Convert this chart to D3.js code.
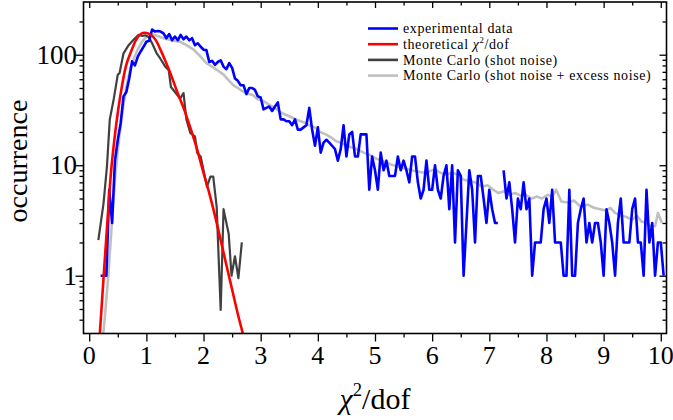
<!DOCTYPE html>
<html><head><meta charset="utf-8">
<script src="https://cdn.jsdelivr.net/npm/d3@7"></script>
<style>
html,body{margin:0;padding:0;background:#fff;}
svg{display:block;}
svg text{font-family:'Liberation Serif','DejaVu Serif',serif;fill:#000;}
</style></head><body>
<svg id="chart" width="673" height="420" font-family="Liberation Serif, DejaVu Serif, serif"></svg>
<script>
// ---------------- data ----------------
const xMajorTicks = [0,1,2,3,4,5,6,7,8,9,10];
const xMinorTicks = [0.5,1.5,2.5,3.5,4.5,5.5,6.5,7.5,8.5,9.5];
const yMajorTicks = [1,10,100];
const yTickLabels = ["1","10","100"];
const yMinorTicks = [0.4,0.5,0.6,0.7,0.8,0.9,2,3,4,5,6,7,8,9,20,30,40,50,60,70,80,90,200];
const xTitle = "χ2/dof";
const yTitle = "occurrence";
const legendLabels = ["experimental data","theoretical χ2/dof","Monte Carlo (shot noise)","Monte Carlo (shot noise + excess noise)"];
const seriesColors = ["#0000ff","#ff0000","#404040","#c0c0c0"];

// experimental data [chi2/dof, occurrence]; 0 = empty bin (gap)
const experimental = [[0.20,1],[0.25,1],[0.30,1],[0.35,6],[0.40,3],[0.45,11],[0.50,17],[0.55,24],[0.60,42],[0.65,46],[0.70,61],[0.75,87],[0.80,80],[0.85,96],[0.90,107],[0.95,118],[1.00,131],[1.05,134],[1.10,169],[1.15,162],[1.20,164],[1.25,162],[1.30,156],[1.35,141],[1.40,154],[1.45,135],[1.50,146],[1.55,135],[1.60,151],[1.65,138],[1.70,146],[1.75,135],[1.80,141],[1.85,122],[1.90,127],[1.95,118],[2.00,111],[2.05,110],[2.10,86],[2.15,88],[2.20,81],[2.25,86],[2.30,89],[2.35,78],[2.40,74],[2.45,84],[2.50,76],[2.55,61],[2.60,58],[2.65,53],[2.70,53],[2.75,44],[2.80,50],[2.85,50],[2.90,48],[2.95,42],[3.00,41],[3.05,32],[3.10,33],[3.15,34],[3.20,31],[3.25,34],[3.30,37],[3.35,26],[3.40,26],[3.45,25],[3.50,25],[3.55,23],[3.60,26],[3.65,21],[3.70,21],[3.75,22],[3.80,23],[3.85,33],[3.90,21],[3.95,15],[4.00,22],[4.05,13],[4.10,16],[4.15,17],[4.20,16],[4.25,15],[4.30,14],[4.35,11],[4.40,14],[4.45,23],[4.50,12],[4.55,19],[4.60,20],[4.65,12],[4.70,12],[4.75,19],[4.80,19],[4.85,19],[4.90,6],[4.95,12],[5.00,9],[5.05,6],[5.10,13],[5.15,9],[5.20,11],[5.25,8],[5.30,8],[5.35,8],[5.40,12],[5.45,9],[5.50,11],[5.55,9],[5.60,7],[5.65,12],[5.70,12],[5.75,7],[5.80,5],[5.85,6],[5.90,11],[5.95,6],[6.00,6],[6.05,10],[6.10,6],[6.15,5],[6.20,8],[6.25,10],[6.30,4],[6.35,10],[6.40,2],[6.45,9],[6.50,8],[6.55,1],[6.60,3],[6.65,9],[6.70,6],[6.75,2],[6.80,8],[6.85,8],[6.90,5],[6.95,3],[7.00,6],[7.05,4],[7.10,3],[7.15,3],[7.20,0],[7.25,9],[7.30,5],[7.35,7],[7.40,4],[7.45,2],[7.50,5],[7.55,4],[7.60,7],[7.65,4],[7.70,5],[7.75,1],[7.80,2],[7.85,2],[7.90,2],[7.95,4],[8.00,5],[8.05,3],[8.10,6],[8.15,2],[8.20,2],[8.25,2],[8.30,1],[8.35,1],[8.40,6],[8.45,1],[8.50,1],[8.55,3],[8.60,4],[8.65,5],[8.70,2],[8.75,3],[8.80,2],[8.85,3],[8.90,3],[8.95,2],[9.00,1],[9.05,4],[9.10,3],[9.15,2],[9.20,1],[9.25,3],[9.30,5],[9.35,2],[9.40,2],[9.45,2],[9.50,4],[9.55,5],[9.60,2],[9.65,2],[9.70,1],[9.75,6],[9.80,2],[9.85,3],[9.90,1],[9.95,2],[10.00,2],[10.05,1]];

const theoretical = [[0.18,0.27],[0.22,0.55],[0.26,1.13],[0.32,3.2],[0.38,8.5],[0.44,17],[0.50,30],[0.57,51],[0.64,78],[0.73,106],[0.82,136],[0.90,154],[0.97,158],[1.04,155],[1.10,148],[1.17,134],[1.25,110],[1.34,86],[1.43,66],[1.54,46],[1.66,32],[1.78,21],[1.89,13.8],[2.00,8.5],[2.10,5.6],[2.20,3.5],[2.30,2.1],[2.40,1.25],[2.50,0.75],[2.60,0.45],[2.72,0.26]];

const mcShot = [[0.16,2.1],[0.25,4.5],[0.31,9.7],[0.36,26],[0.43,40],[0.50,66],[0.53,68],[0.60,103],[0.69,122],[0.80,141],[0.86,151],[0.93,148],[0.98,150],[1.04,145],[1.10,127],[1.18,103],[1.24,93],[1.33,78],[1.39,73],[1.43,51],[1.50,46],[1.59,40],[1.65,45],[1.70,26],[1.77,19.5],[1.85,18.2],[1.89,12.9],[1.95,12],[2.06,6.4],[2.12,7.9],[2.17,7.9],[2.23,4.2],[2.30,0.49],[2.35,4],[2.44,2.4],[2.49,1],[2.55,1.5],[2.61,0.95],[2.67,2]];

const mcExcess = [[0.24,0.28],[0.28,0.46],[0.34,1.1],[0.40,3.2],[0.46,8.5],[0.52,17],[0.58,30],[0.65,51],[0.72,75],[0.78,92],[0.85,112],[0.92,130],[0.98,142],[1.05,150],[1.10,152],[1.16,150],[1.22,146],[1.30,141],[1.40,137],[1.50,133],[1.59,131],[1.70,122],[1.82,112],[1.94,97],[2.05,84],[2.15,78],[2.25,72],[2.35,66],[2.45,58],[2.52,53],[2.60,50],[2.70,46],[2.80,44],[2.87,43],[2.93,40],[3.05,38],[3.16,35],[3.25,33],[3.35,30],[3.45,28.5],[3.55,27],[3.65,25.5],[3.75,24.5],[3.85,23],[3.95,22],[4.04,20],[4.14,19],[4.22,18],[4.32,16.5],[4.40,16],[4.50,15],[4.60,14.5],[4.70,13.8],[4.80,13],[4.91,12.4],[5.02,11.5],[5.15,10.8],[5.27,10.2],[5.38,9.8],[5.50,9.4],[5.61,9.1],[5.72,8.8],[5.84,8.6],[5.95,8.8],[6.05,9.2],[6.15,8.5],[6.25,8.2],[6.35,8.6],[6.45,8.2],[6.55,7.4],[6.65,7.2],[6.75,7.0],[6.87,6.4],[6.97,6.6],[7.07,6.0],[7.16,5.6],[7.26,5.8],[7.36,5.4],[7.45,5.6],[7.55,5.3],[7.64,5.4],[7.74,5.0],[7.84,5.2],[7.92,5.0],[8.02,5.4],[8.10,5.2],[8.17,6.0],[8.26,4.7],[8.38,4.6],[8.48,4.8],[8.60,4.2],[8.72,4.4],[8.84,4.1],[8.94,4.0],[9.03,3.9],[9.12,4.1],[9.20,3.7],[9.30,3.5],[9.40,3.4],[9.50,3.2],[9.58,3.5],[9.66,3.1],[9.75,3.0],[9.82,2.8],[9.90,2.8],[9.95,3.7],[10.02,3.0]];

// ---------------- layout ----------------
const svg = d3.select("#chart");
const L = 83.5, R = 666.5, T = 2, B = 333.5;
const x = d3.scaleLinear().domain([-0.1, 10.1]).range([L, R]);
const y = d3.scaleLog().domain([0.3, 300]).range([B, T]);
const FONT = "Liberation Serif, DejaVu Serif, serif";

svg.append("defs").append("clipPath").attr("id","plotclip")
  .append("rect").attr("x",L).attr("y",T).attr("width",R-L).attr("height",B-T);

const plot = svg.append("g").attr("clip-path","url(#plotclip)");
const line = d3.line().defined(d => d[1] > 0).x(d => x(d[0])).y(d => y(d[1]));
const smooth = d3.line().x(d => x(d[0])).y(d => y(d[1])).curve(d3.curveMonotoneX);

plot.append("path").datum(mcExcess).attr("d", line).attr("fill","none")
  .attr("stroke", seriesColors[3]).attr("stroke-width",2.6).attr("stroke-linejoin","round");
plot.append("path").datum(mcShot).attr("d", line).attr("fill","none")
  .attr("stroke", seriesColors[2]).attr("stroke-width",2.2).attr("stroke-linejoin","round");
plot.append("path").datum(experimental).attr("d", line).attr("fill","none")
  .attr("stroke", seriesColors[0]).attr("stroke-width",2.6).attr("stroke-linejoin","round");
plot.append("path").datum(theoretical).attr("d", smooth).attr("fill","none")
  .attr("stroke", seriesColors[1]).attr("stroke-width",2.6);

// ---------------- axes ----------------
function styleAxis(g){ g.select(".domain").remove(); g.selectAll("line").attr("stroke","#000").attr("stroke-width",1.3); g.selectAll("text").remove(); }
svg.append("g").attr("transform",`translate(0,${B})`).call(d3.axisBottom(x).tickValues(xMajorTicks).tickSize(8)).call(styleAxis);
svg.append("g").attr("transform",`translate(0,${B})`).call(d3.axisBottom(x).tickValues(xMinorTicks).tickSize(4)).call(styleAxis);
svg.append("g").attr("transform",`translate(0,${T})`).call(d3.axisTop(x).tickValues(xMajorTicks).tickSize(-6)).call(styleAxis);
svg.append("g").attr("transform",`translate(0,${T})`).call(d3.axisTop(x).tickValues(xMinorTicks).tickSize(-3.5)).call(styleAxis);
svg.append("g").attr("transform",`translate(${L},0)`).call(d3.axisLeft(y).tickValues(yMajorTicks).tickSize(8)).call(styleAxis);
svg.append("g").attr("transform",`translate(${L},0)`).call(d3.axisLeft(y).tickValues(yMinorTicks).tickSize(4)).call(styleAxis);
svg.append("g").attr("transform",`translate(${R},0)`).call(d3.axisRight(y).tickValues(yMajorTicks).tickSize(-7)).call(styleAxis);
svg.append("g").attr("transform",`translate(${R},0)`).call(d3.axisRight(y).tickValues(yMinorTicks).tickSize(-4)).call(styleAxis);

svg.append("rect").attr("x",L).attr("y",T).attr("width",R-L).attr("height",B-T)
  .attr("fill","none").attr("stroke","#000").attr("stroke-width",1.6);

// tick labels
svg.append("g").selectAll("text").data(xMajorTicks).join("text")
  .attr("font-family", FONT)
  .attr("x", d => x(d)).attr("y", 364).attr("text-anchor","middle")
  .attr("font-size",26).text(d => String(d));
svg.append("g").selectAll("text").data(yMajorTicks).join("text")
  .attr("font-family", FONT)
  .attr("x", 77).attr("y", d => y(d) + 9).attr("text-anchor","end")
  .attr("font-size",27).text((d,i) => yTickLabels[i]);

// rich text helper for chi^2
function rich(sel, str, fs){
  const i = str.indexOf("χ2");
  if (i < 0) { sel.text(str); return; }
  if (i > 0) sel.append("tspan").text(str.slice(0,i));
  sel.append("tspan").attr("font-style","italic").text("χ");
  sel.append("tspan").attr("dy", -0.42*fs).attr("font-size", 0.62*fs).text("2");
  sel.append("tspan").attr("dy", 0.42*fs).text(str.slice(i+2));
}

// axis titles
const xt = svg.append("text").attr("font-family", FONT).attr("x", (L+R)/2).attr("y", 409)
  .attr("text-anchor","middle").attr("font-size",30);
rich(xt, xTitle, 30);
svg.append("text").attr("font-family", FONT).attr("transform","translate(27,161) rotate(-90)")
  .attr("text-anchor","middle").attr("font-size",28).text(yTitle);

// legend
const lg = svg.append("g");
legendLabels.forEach((lab, i) => {
  const cy = 28.5 + i*15.7;
  lg.append("line").attr("x1",368).attr("x2",398).attr("y1",cy).attr("y2",cy)
    .attr("stroke", seriesColors[i]).attr("stroke-width",2.6);
  const t = lg.append("text").attr("font-family", FONT).attr("x",403).attr("y",cy+4.6)
    .attr("font-size",14).attr("letter-spacing","0.6px");
  rich(t, lab, 14);
});
</script>
</body></html>
